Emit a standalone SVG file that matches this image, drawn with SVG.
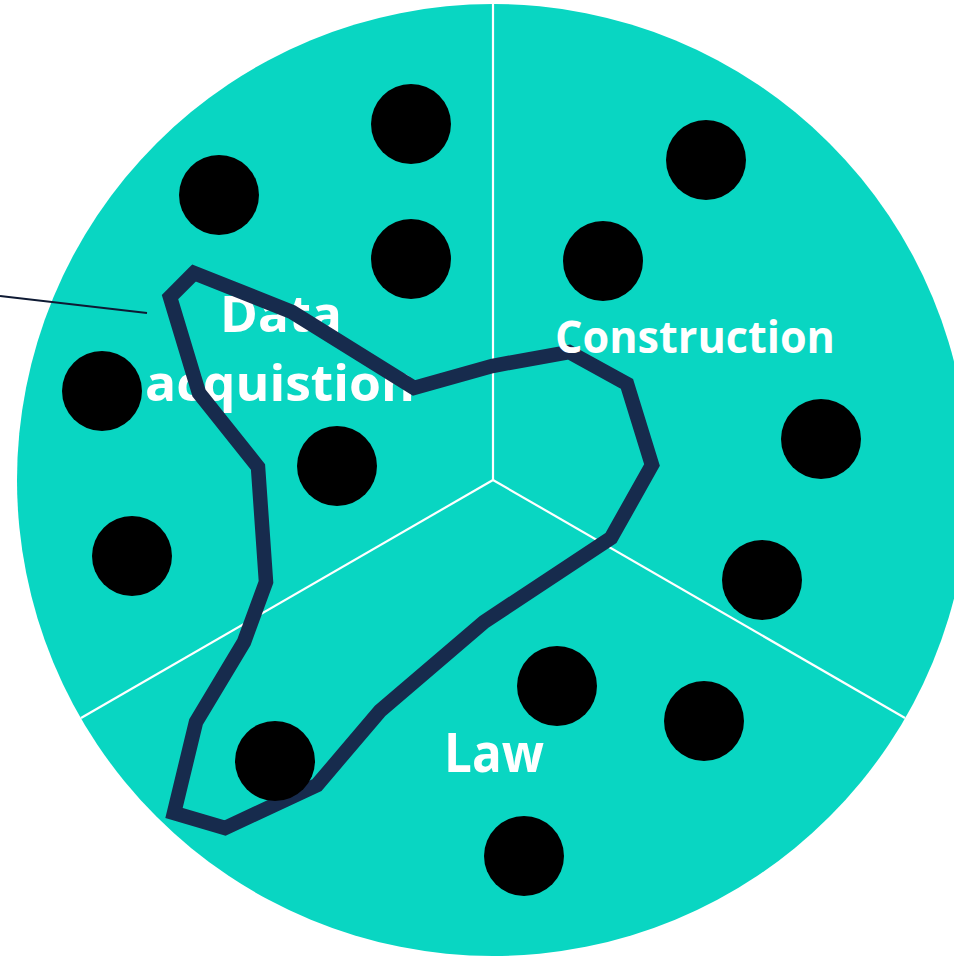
<svg xmlns="http://www.w3.org/2000/svg" width="954" height="956" viewBox="0 0 954 956">
  <style>
    .sector-line { stroke: #ffffff; stroke-width: 2.2; fill: none; }
    .dot { fill: #000000; }
    .label { fill: #ffffff; font-family: "Open Sans", "Liberation Sans", sans-serif; font-weight: 700; text-anchor: middle; }
    .outline { fill: none; stroke: #172B4D; stroke-width: 14.5; stroke-linejoin: miter; stroke-miterlimit: 10; }
  </style>
  <rect width="954" height="956" fill="#ffffff"/>
  <g id="disc">
    <circle cx="493" cy="480" r="476" fill="#09D6C2"/>
    <line class="sector-line" x1="493" y1="3" x2="493" y2="480"/>
    <line class="sector-line" x1="493" y1="480" x2="81" y2="718"/>
    <line class="sector-line" x1="493" y1="480" x2="905" y2="718"/>
  </g>
  <g id="label-data">
    <text class="label" x="281" y="332" font-size="50" textLength="122" lengthAdjust="spacingAndGlyphs">Data</text>
    <text class="label" x="280" y="401" font-size="50" textLength="270" lengthAdjust="spacingAndGlyphs">acquistion</text>
  </g>
  <g id="connectors">
    <line x1="0" y1="296" x2="147" y2="313" stroke="#0E1A33" stroke-width="2.2"/>
    <path id="boundary" class="outline" d="M194,273 L170,297 L199,393 L258,467 L266,582 L244,642 L196,722 L174,813 L225,828 L317,785 L380,711 L484,622 L611,538 L652,465 L627,384 L569,352 L492,366 L414,388 L292,312 Z"/>
  </g>
  <g id="dots">
    <circle id="d1" class="dot" cx="411" cy="124" r="40"/>
    <circle id="d2" class="dot" cx="219" cy="195" r="40"/>
    <circle id="d3" class="dot" cx="411" cy="259" r="40"/>
    <circle id="d4" class="dot" cx="102" cy="391" r="40"/>
    <circle id="d5" class="dot" cx="337" cy="466" r="40"/>
    <circle id="d6" class="dot" cx="132" cy="556" r="40"/>
    <circle id="d7" class="dot" cx="275" cy="761" r="40"/>
    <circle id="d8" class="dot" cx="706" cy="160" r="40"/>
    <circle id="d9" class="dot" cx="603" cy="261" r="40"/>
    <circle id="d10" class="dot" cx="821" cy="439" r="40"/>
    <circle id="d11" class="dot" cx="762" cy="580" r="40"/>
    <circle id="d12" class="dot" cx="557" cy="686" r="40"/>
    <circle id="d13" class="dot" cx="704" cy="721" r="40"/>
    <circle id="d14" class="dot" cx="524" cy="856" r="40"/>
  </g>
  <g id="label-construction">
    <text class="label" x="695" y="353" font-size="45" font-weight="600" textLength="280" lengthAdjust="spacingAndGlyphs">Construction</text>
  </g>
  <g id="label-law">
    <text class="label" x="494" y="772" font-size="54" textLength="100" lengthAdjust="spacingAndGlyphs">Law</text>
  </g>
</svg>
